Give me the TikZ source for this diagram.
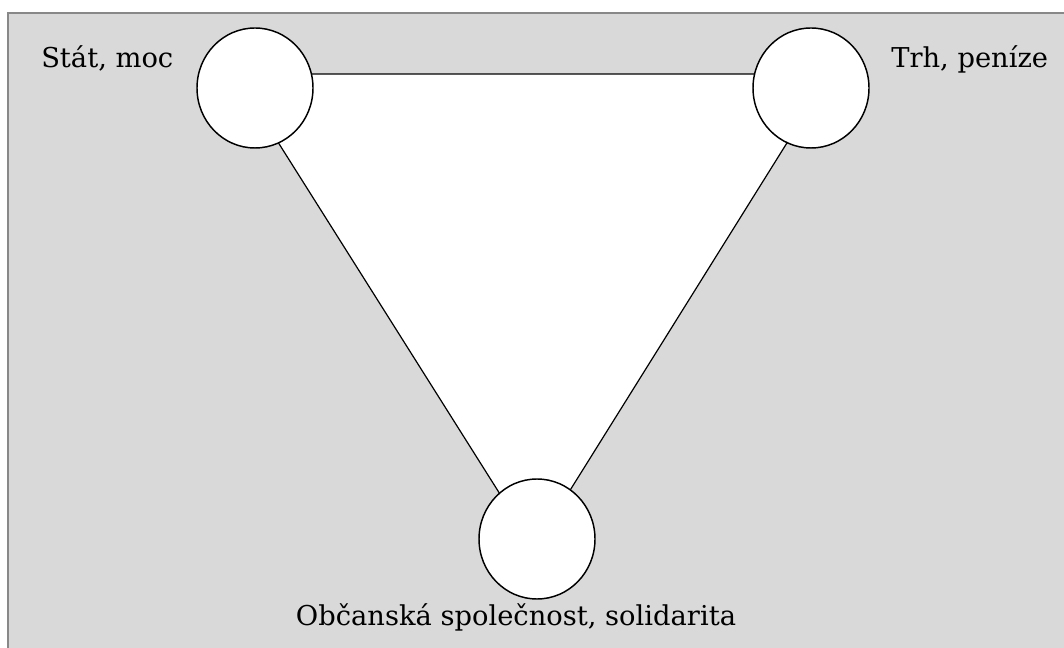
\documentclass[tikz,border=0pt]{standalone}
\usepackage{fontspec}
\setmainfont{DejaVu Serif}
\usetikzlibrary{shapes.geometric, positioning}
\definecolor{PanelGray}{RGB}{217,217,217}
\definecolor{FrameGray}{RGB}{136,136,136}
\tikzset{
  panel/.style={fill=PanelGray,draw=FrameGray,line width=1.5pt},
  pole/.style={ellipse,draw=black,fill=white,line width=1.1pt,
    minimum width=87pt,minimum height=90pt,inner sep=0pt},
  edge/.style={draw=black,line width=0.9pt,fill=white},
  polelabel/.style={font=\fontsize{20.5pt}{24pt}\selectfont,inner sep=0pt}
}
\begin{document}
\begin{tikzpicture}[x=0.75pt,y=-0.75pt]
  \useasboundingbox (0,0) rectangle (1064,648);
  \draw[panel] (8,13) rectangle (1080,670);
  % triangle corners
  \coordinate (ta) at (235,74);
  \coordinate (tb) at (830,74);
  \coordinate (tc) at (534,548);
  \path[edge] (ta) -- (tb) -- (tc) -- cycle;
  % the three poles
  \node[pole] (stat) at (255,88) {};
  \node[pole] (trh) at (811,88) {};
  \node[pole] (obcan) at (537,539) {};
  \node[polelabel,anchor=base west] (lstat) at (41,68) {Stát, moc};
  \node[polelabel,anchor=base west] (ltrh) at (891,68) {Trh, peníze};
  \node[polelabel,anchor=base] (lobcan) at (516,625) {Občanská společnost, solidarita};
\end{tikzpicture}
\end{document}
